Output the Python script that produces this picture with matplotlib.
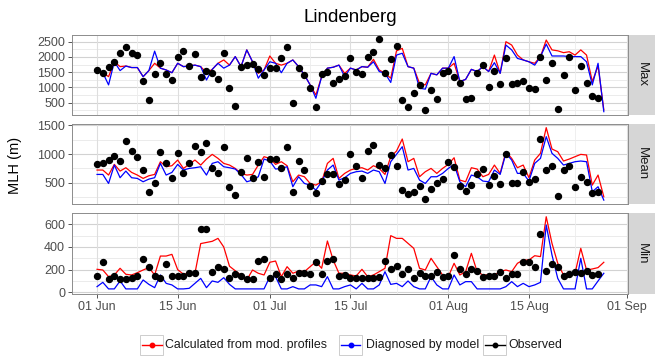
"""
plot.py
=======
Lindenberg mixing-layer height (MLH), summer: daily max / mean / min of the
height calculated from model profiles, diagnosed by the model, and observed.
"""

import numpy as np
import pandas as pd
import matplotlib
matplotlib.use("Agg")
import matplotlib.pyplot as plt
import matplotlib.dates as mdates
from matplotlib.lines import Line2D
from matplotlib.patches import Rectangle

# ---- data (m) ----
START = "2013-06-01"
N_DAYS = 89

max_calc = [1570, 1480, 1350, 1840, 1680, 1700, 1650, 1650, 1350, 1550,
            1790, 1630, 1570, 1480, 1790, 1680, 1700, 1730, 1680, 1480,
            1590, 1790, 1900, 1730, 2010, 1680, 2230, 1840, 1460, 1570,
            2030, 1790, 1730, 1790, 1900, 1680, 1410, 1080, 750, 1350,
            1630, 1660, 1730, 1460, 1630, 1570, 1680, 1660, 1920, 1570,
            1460, 1300, 2200, 2280, 1680, 1630, 1130, 1080, 1460, 1410,
            1630, 1630, 1790, 1190, 1260, 1590, 1520, 1680, 1520, 2060,
            1460, 2500, 2390, 2060, 1900, 1840, 1790, 2010, 2555, 2230,
            2200, 2140, 2170, 2060, 2230, 2060, 1190, 1700, 260]
max_diag = [1570, 1480, 1080, 1840, 1550, 1700, 1650, 1650, 1350, 1550,
            2190, 1630, 1570, 1480, 1790, 1680, 1700, 1730, 1680, 1240,
            1590, 1790, 1630, 1730, 2010, 1680, 2230, 1840, 1300, 1570,
            1840, 1790, 1480, 1790, 1900, 1680, 1410, 1080, 640, 1350,
            1630, 1660, 1730, 1350, 1630, 1570, 1680, 1660, 1840, 1520,
            1460, 1160, 2060, 2120, 1680, 1630, 970, 940, 1460, 1410,
            1630, 1630, 2010, 1190, 1260, 1590, 1520, 1680, 1520, 1810,
            1460, 2390, 2230, 1950, 1900, 1840, 1730, 2010, 2420, 2030,
            2030, 2030, 2010, 2010, 2010, 1840, 1080, 1790, 200]
max_obs = [1570, 1480, 1660, 1840, 2140, 2340, 2140, 2060, 1220, 590,
           1430, 1790, 1430, 1240, 1990, 2190, 1710, 2090, 1350, 1550,
           1480, 1270, 2140, 990, 400, 1660, 1740, 1760, 1590, 1410,
           1650, 1650, 1950, 2310, 500, 1650, 1410, 970, 340, 1430,
           1520, 1130, 1270, 1360, 1950, 1520, 1430, 2010, 2170, 2580,
           1460, 1920, 2360, 590, 350, 810, 1060, 260, 920, 610,
           1480, 1550, 1350, 1130, 610, 660, 1480, 1740, 1000, 1550,
           1100, 1980, 1100, 1130, 1210, 970, 940, 1990, 1240, 1790,
           280, 1410, 2010, 920, 1700, 1130, 700, 660]

mean_calc = [723, 723, 636, 821, 705, 763, 682, 636, 578, 624,
             647, 867, 780, 798, 896, 751, 821, 896, 809, 913,
             994, 925, 838, 809, 751, 665, 636, 647, 809, 954,
             925, 821, 867, 798, 520, 636, 607, 491, 462, 520,
             838, 925, 578, 665, 723, 751, 763, 723, 798, 751,
             647, 954, 1052, 1260, 867, 925, 607, 694, 751, 665,
             751, 821, 936, 549, 520, 763, 740, 607, 647, 809,
             665, 1040, 925, 763, 809, 590, 896, 1012, 1457, 1087,
             1040, 879, 913, 954, 994, 983, 462, 636, 260]
mean_diag = [647, 647, 491, 809, 590, 705, 590, 578, 520, 566,
             590, 838, 636, 682, 821, 723, 751, 763, 780, 636,
             838, 867, 780, 763, 740, 647, 520, 549, 607, 913,
             879, 740, 751, 780, 434, 607, 491, 462, 376, 520,
             723, 809, 549, 590, 665, 694, 705, 665, 723, 694,
             491, 867, 994, 1127, 723, 751, 549, 491, 607, 607,
             665, 751, 821, 520, 434, 636, 607, 532, 520, 723,
             647, 1012, 896, 665, 665, 532, 838, 925, 1301, 1012,
             925, 809, 838, 867, 879, 867, 347, 434, 202]
mean_obs = [821, 850, 896, 971, 879, 1225, 1058, 954, 723, 347,
            503, 1029, 838, 578, 1012, 676, 838, 1145, 1029, 1185,
            763, 665, 1116, 422, 289, 682, 925, 578, 855, 607,
            908, 913, 751, 1116, 347, 879, 723, 445, 318, 532,
            653, 653, 474, 549, 994, 792, 590, 1052, 1156, 809,
            763, 983, 798, 376, 301, 335, 445, 214, 393, 491,
            566, 855, 780, 445, 358, 462, 647, 734, 462, 624,
            480, 994, 491, 491, 682, 520, 566, 1260, 723, 798,
            272, 723, 792, 434, 607, 520, 330, 347]

min_calc = [203, 197, 138, 153, 212, 159, 153, 173, 197, 218,
            153, 320, 320, 335, 200, 160, 168, 168, 430, 440,
            450, 476, 400, 230, 190, 150, 109, 197, 168, 153,
            265, 276, 138, 226, 168, 188, 182, 226, 270, 212,
            453, 285, 168, 168, 153, 144, 203, 138, 153, 182,
            212, 500, 476, 476, 432, 388, 212, 197, 300, 226,
            153, 138, 256, 153, 182, 344, 182, 153, 153, 153,
            182, 197, 182, 256, 285, 285, 323, 315, 667, 432,
            256, 153, 168, 168, 388, 197, 206, 218, 265]
min_diag = [50, 88, 30, 30, 100, 30, 30, 30, 109, 70,
            41, 153, 79, 65, 30, 30, 35, 79, 123, 41,
            100, 88, 129, 70, 30, 30, 30, 30, 30, 30,
            138, 138, 30, 30, 50, 30, 30, 65, 65, 50,
            138, 30, 30, 50, 65, 30, 79, 30, 30, 65,
            182, 70, 79, 50, 100, 50, 30, 30, 138, 65,
            30, 30, 153, 65, 94, 94, 30, 30, 30, 30,
            30, 50, 94, 50, 79, 50, 65, 88, 594, 329,
            123, 30, 30, 30, 300, 30, 30, 100, 168]
min_obs = [144, 265, 118, 147, 118, 118, 123, 144, 294, 220,
           144, 129, 247, 144, 144, 144, 173, 173, 556, 556,
           176, 226, 206, 129, 159, 144, 118, 118, 276, 294,
           129, 159, 118, 162, 129, 173, 173, 162, 270, 159,
           276, 291, 147, 150, 123, 129, 129, 129, 129, 138,
           276, 206, 232, 159, 206, 129, 168, 144, 144, 176,
           138, 144, 329, 206, 159, 203, 188, 132, 147, 147,
           176, 129, 159, 159, 270, 270, 226, 512, 191, 250,
           220, 144, 162, 176, 168, 188, 153, 159]

panels = [
    ("Max", max_calc, max_diag, max_obs, (90, 2720), [500, 1000, 1500, 2000, 2500]),
    ("Mean", mean_calc, mean_diag, mean_obs, (135, 1520), [500, 1000, 1500]),
    ("Min", min_calc, min_diag, min_obs, (-15, 700), [0, 200, 400, 600]),
]

series_labels = ["Calculated from mod. profiles", "Diagnosed by model", "Observed"]
series_colors = ["#FF0000", "#0000FF", "#000000"]

W, H = 659, 357


def _fx(px):
    return px / W


def _fy(py):
    return 1 - py / H


def _legend(fig):
    # ggplot-style keys: grey-bordered box, line through it, dot in the middle
    keys = [(140, 165), (339, 366), (483, 508)]   # box left px, text left px
    kw, top, bot, yc = 23, 335, 355, 345
    for (bx, tx), lab, c in zip(keys, series_labels, series_colors):
        fig.add_artist(Rectangle((_fx(bx), _fy(bot)), _fx(kw), (bot - top) / H,
                                 transform=fig.transFigure, facecolor="white",
                                 edgecolor="#CDCDCD", lw=0.7))
        fig.add_artist(Line2D([_fx(bx + 1.5), _fx(bx + kw - 1.5)], [_fy(yc), _fy(yc)],
                              transform=fig.transFigure, color=c, lw=1.0))
        fig.add_artist(Line2D([_fx(bx + kw / 2)], [_fy(yc)], transform=fig.transFigure,
                              color=c, marker="o", ms=3.2, ls="none"))
        fig.text(_fx(tx), _fy(yc), lab, ha="left", va="center", fontsize=8.9,
                 color="#1A1A1A")


def main():
    plt.rcParams["font.family"] = ["Liberation Sans", "DejaVu Sans"]
    fig = plt.figure(figsize=(W / 100, H / 100), dpi=100)

    dates = pd.date_range(START, periods=N_DAYS, freq="D")
    d0 = mdates.date2num(dates[0])
    xlim = (d0 - 4.35, d0 + 92.2)
    major = pd.to_datetime(["2013-06-01", "2013-06-15", "2013-07-01",
                            "2013-07-15", "2013-08-01", "2013-08-15", "2013-09-01"])
    minor = pd.to_datetime(["2013-05-25", "2013-06-08", "2013-06-23", "2013-07-08",
                            "2013-07-23", "2013-08-08", "2013-08-23"])

    # panel boxes in pixels (top, bottom)
    rows = [(35, 115), (124, 204), (213, 294)]
    x0, x1 = 72, 628
    sx0, sx1 = 629, 655

    for i, (name, calc, diag, obs, ylim, yticks) in enumerate(panels):
        top, bot = rows[i]
        ax = fig.add_axes([_fx(x0), _fy(bot), _fx(x1 - x0), (bot - top) / H])
        ax.set_xlim(*xlim)
        ax.set_ylim(*ylim)

        # ---- grid ----
        step = yticks[1] - yticks[0]
        yminor = np.arange(yticks[0] - step / 2, ylim[1], step)
        for y in yminor:
            ax.axhline(y, color="#E8E8E8", lw=0.6, zorder=0)
        for y in yticks:
            ax.axhline(y, color="#D2D2D2", lw=0.8, zorder=0)
        for d in minor:
            ax.axvline(d, color="#EDEDED", lw=0.6, zorder=0)
        for d in major:
            ax.axvline(d, color="#DEDEDE", lw=0.8, zorder=0)

        # ---- series ----
        ax.plot(dates, calc, color=series_colors[0], lw=0.9, zorder=2)
        ax.plot(dates, diag, color=series_colors[1], lw=0.9, zorder=3)
        ax.plot(dates[:len(obs)], obs, ls="none", marker="o", ms=4.3,
                color=series_colors[2], zorder=4)

        ax.set_yticks(yticks)
        ax.set_xticks(major)
        ax.tick_params(axis="both", length=3, width=0.7, color="#555555",
                       labelsize=9, labelcolor="#4D4D4D", pad=2)
        if i == len(panels) - 1:
            ax.xaxis.set_major_formatter(mdates.DateFormatter("%d %b"))
        else:
            ax.tick_params(axis="x", length=0, labelbottom=False)
        for s in ax.spines.values():
            s.set_color("#8C8C8C")
            s.set_linewidth(0.7)

        # ---- strip ----
        st = fig.add_axes([_fx(sx0), _fy(bot), _fx(sx1 - sx0), (bot - top) / H])
        st.set_facecolor("#D6D6D6")
        st.set_xticks([]); st.set_yticks([])
        for s in st.spines.values():
            s.set_visible(False)
        st.text(0.5, 0.5, name, rotation=-90, ha="center", va="center",
                fontsize=9.5, color="#1A1A1A", transform=st.transAxes)

    fig.text(_fx(350), _fy(18), "Lindenberg", ha="center", va="center", fontsize=13.5)
    fig.text(_fx(15), _fy(165), "MLH (m)", ha="center", va="center",
             rotation=90, fontsize=10.5)

    _legend(fig)

    fig.savefig("out.png", dpi=100)
    plt.close(fig)


if __name__ == "__main__":
    main()
